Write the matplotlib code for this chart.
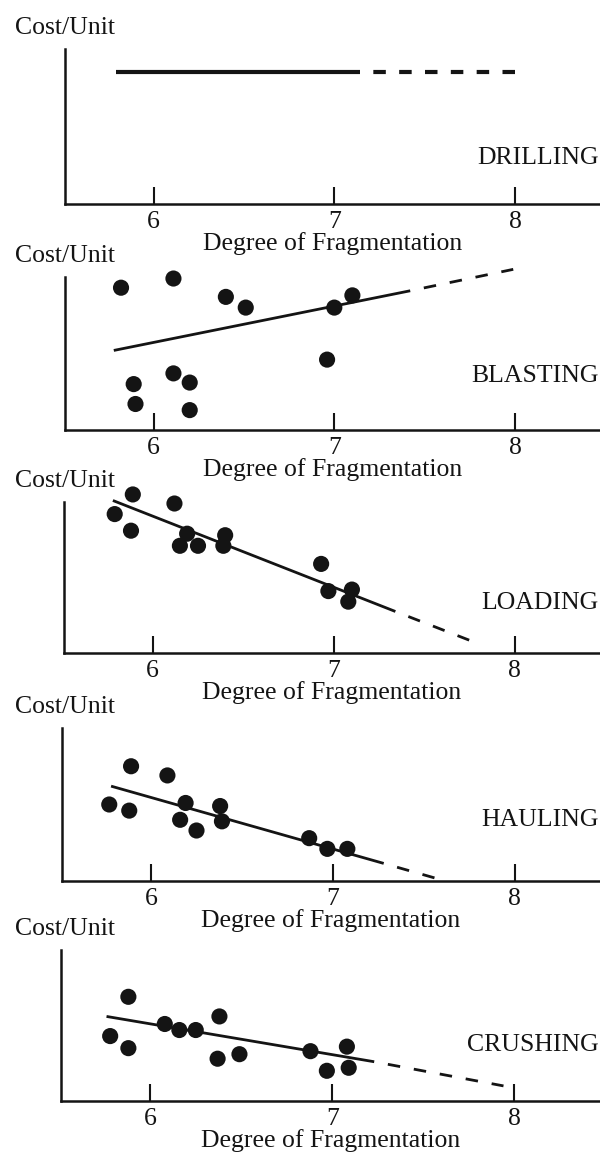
import matplotlib
matplotlib.use("Agg")
import matplotlib.pyplot as plt

plt.rcParams["font.family"] = ["Liberation Serif", "DejaVu Serif"]

W, H = 600, 1153
INK = "#141414"

TICKS = [6, 7, 8]
X_LABEL = "Degree of Fragmentation"
Y_LABEL = "Cost/Unit"
NAMES = ["DRILLING", "BLASTING", "LOADING", "HAULING", "CRUSHING"]

# observations (cost axis is unitless, 0 = x-axis, 1 = top of y-axis)
DRILL_X = []
DRILL_Y = []
BLAST_X = [5.82, 6.11, 6.40, 6.51, 7.00, 7.10, 6.96, 5.89, 6.11, 6.20, 5.90, 6.20]
BLAST_Y = [0.93, 0.99, 0.87, 0.80, 0.80, 0.88, 0.46, 0.30, 0.37, 0.31, 0.17, 0.13]
LOAD_X = [5.89, 5.79, 5.88, 6.12, 6.19, 6.15, 6.25, 6.40, 6.39, 6.93, 6.97, 7.10, 7.08]
LOAD_Y = [1.05, 0.92, 0.81, 0.99, 0.79, 0.71, 0.71, 0.78, 0.71, 0.59, 0.41, 0.42, 0.34]
HAUL_X = [5.89, 6.09, 5.77, 5.88, 6.19, 6.16, 6.25, 6.38, 6.39, 6.87, 6.97, 7.08]
HAUL_Y = [0.75, 0.69, 0.50, 0.46, 0.51, 0.40, 0.33, 0.49, 0.39, 0.28, 0.21, 0.21]
CRUSH_X = [5.88, 5.78, 5.88, 6.08, 6.16, 6.25, 6.38, 6.37, 6.49, 6.88, 6.97, 7.08, 7.09]
CRUSH_Y = [0.69, 0.43, 0.35, 0.51, 0.47, 0.47, 0.56, 0.28, 0.31, 0.33, 0.20, 0.36, 0.22]

# fitted trend: [start, end of solid part, end of dashed extrapolation]
DRILL_FIT_X = [5.79, 7.14, 8.00]
DRILL_FIT_Y = [0.85, 0.85, 0.85]
BLAST_FIT_X = [5.78, 7.42, 7.99]
BLAST_FIT_Y = [0.52, 0.91, 1.05]
LOAD_FIT_X = [5.78, 7.34, 7.78]
LOAD_FIT_Y = [1.01, 0.275, 0.07]
HAUL_FIT_X = [5.78, 7.28, 7.59]
HAUL_FIT_Y = [0.62, 0.115, 0.01]
CRUSH_FIT_X = [5.76, 7.23, 7.94]
CRUSH_FIT_Y = [0.56, 0.26, 0.10]

PANELS = [
    (DRILL_X, DRILL_Y, DRILL_FIT_X, DRILL_FIT_Y),
    (BLAST_X, BLAST_Y, BLAST_FIT_X, BLAST_FIT_Y),
    (LOAD_X, LOAD_Y, LOAD_FIT_X, LOAD_FIT_Y),
    (HAUL_X, HAUL_Y, HAUL_FIT_X, HAUL_FIT_Y),
    (CRUSH_X, CRUSH_Y, CRUSH_FIT_X, CRUSH_FIT_Y),
]

# layout in pixels of the 600x1153 page
AX_TOP = [49, 277, 502, 728, 950]
AX_BOT = [204, 430, 653, 881, 1101]
AX_LEFT = [65, 65, 64, 62, 61]
NAME_Y = [0.30, 0.35, 0.33, 0.40, 0.37]

FS = 18.5

fig = plt.figure(figsize=(W / 100, H / 100), dpi=100)
fig.patch.set_facecolor("white")

for i, (xs, ys, fx, fy) in enumerate(PANELS):
    left = AX_LEFT[i] / W
    bottom = 1 - AX_BOT[i] / H
    height = (AX_BOT[i] - AX_TOP[i]) / H
    ax = fig.add_axes([left, bottom, 1 - left, height])
    ax.set_xlim(5.51, 8.47)
    ax.set_ylim(0, 1)

    lw = 3.0 if i == 0 else 2.0
    on, off = (3, 3.2) if i == 0 else (4.5, 5)
    ax.plot(fx[:2], fy[:2], color=INK, lw=lw, solid_capstyle="butt", clip_on=False)
    # start the extrapolation with a gap, as in the print
    ax.plot(fx[1:], fy[1:], color=INK, lw=lw, linestyle=(on, (on, off)),
            dash_capstyle="butt", clip_on=False)
    if xs:
        ax.scatter(xs, ys, s=135, color=INK, edgecolors="none", zorder=3, clip_on=False)

    for sp in ["top", "right"]:
        ax.spines[sp].set_visible(False)
    for sp in ["left", "bottom"]:
        ax.spines[sp].set_linewidth(1.8)
        ax.spines[sp].set_color(INK)
    ax.set_yticks([])
    ax.set_xticks(TICKS)
    ax.set_xticklabels([str(t) for t in TICKS], fontsize=FS)
    ax.tick_params(axis="x", direction="in", length=12, width=1.5, pad=5, colors=INK)
    ax.set_xlabel(X_LABEL, fontsize=FS, labelpad=-1, color=INK)

    ax.text(0.998, NAME_Y[i], NAMES[i], transform=ax.transAxes, fontsize=FS,
            ha="right", va="center", color=INK)
    fig.text(15 / W, 1 - (AX_TOP[i] - 21) / H, Y_LABEL, fontsize=FS,
             ha="left", va="center", color=INK)

fig.savefig("out.png", dpi=100, facecolor="white")
